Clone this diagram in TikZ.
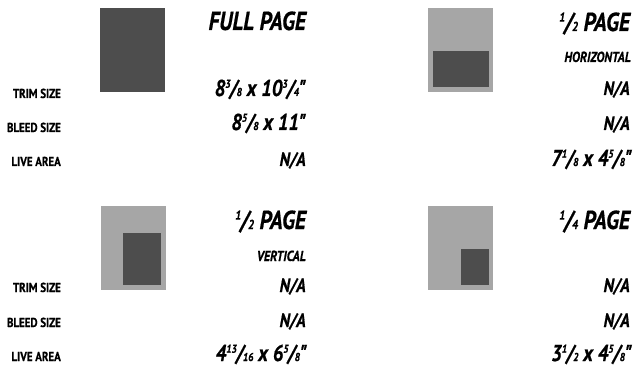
\documentclass[tikz,border=0pt]{standalone}
\usepackage{fontspec}
\usepackage{graphicx}
\newfontfamily\condfont{PT Sans}[FakeStretch=0.84, FakeBold=0.6]
\definecolor{livegray}{HTML}{4D4D4D}
\definecolor{trimgray}{HTML}{A6A6A6}
\newcommand\fr[2]{\raisebox{.36em}{\scalebox{.5}{#1}}\kern-.03em/\kern-.03em\scalebox{.5}{#2}}

\begin{document}
\begin{tikzpicture}[x=1pt, y=-1pt,
  every node/.style={inner sep=0pt, anchor=base east, text=black},
  title/.style={font=\condfont\bfseries\itshape\fontsize{26}{26}\selectfont},
  subtitle/.style={font=\condfont\bfseries\itshape\fontsize{14.5}{14.5}\selectfont},
  dimval/.style={font=\condfont\bfseries\itshape\fontsize{23}{23}\selectfont},
  naval/.style={font=\condfont\bfseries\itshape\fontsize{19.5}{19.5}\selectfont},
  rowlabel/.style={font=\condfont\bfseries\fontsize{13}{13}\selectfont}
]
\useasboundingbox (0,0) rectangle (634,366);
% page thumbnails
\fill[livegray] (100,8) rectangle (165,92);
\fill[trimgray] (428,8) rectangle (493,92);
\fill[livegray] (433,51) rectangle (489,87);
\fill[trimgray] (101,206) rectangle (166,290);
\fill[livegray] (123,233) rectangle (161,285);
\fill[trimgray] (428,206) rectangle (493,290);
\fill[livegray] (461,249) rectangle (489,285);
% full page
\node[title]    (fp)      at (306,30)  {FULL PAGE};
\node[rowlabel] (fptrim)  at (61,98)   {TRIM SIZE};
\node[rowlabel] (fpbleed) at (61,132)  {BLEED SIZE};
\node[rowlabel] (fplive)  at (61,166)  {LIVE AREA};
\node[dimval]   (fptrimv) at (306,96)  {8\fr{3}{8} x 10\fr{3}{4}"};
\node[dimval]   (fpbleedv) at (306,130) {8\fr{5}{8} x 11"};
\node[naval]    (fplivev) at (306,166) {N/A};
% half page horizontal
\node[title]    (hh)      at (630,31)  {\fr{1}{2} PAGE};
\node[subtitle] (hhsub)   at (631,62)  {HORIZONTAL};
\node[naval]    (hhtrimv) at (630,95)  {N/A};
\node[naval]    (hhbleedv) at (630,130) {N/A};
\node[dimval]   (hhlivev) at (632,166) {7\fr{1}{8} x 4\fr{5}{8}"};
% half page vertical
\node[title]    (hv)      at (306,229) {\fr{1}{2} PAGE};
\node[subtitle] (hvsub)   at (306,261) {VERTICAL};
\node[rowlabel] (hvtrim)  at (61,292)  {TRIM SIZE};
\node[rowlabel] (hvbleed) at (61,327)  {BLEED SIZE};
\node[rowlabel] (hvlive)  at (61,361)  {LIVE AREA};
\node[naval]    (hvtrimv) at (306,292) {N/A};
\node[naval]    (hvbleedv) at (306,327) {N/A};
\node[dimval]   (hvlivev) at (307,361) {4\fr{13}{16} x 6\fr{5}{8}"};
% quarter page
\node[title]    (qp)      at (630,229) {\fr{1}{4} PAGE};
\node[naval]    (qptrimv) at (630,292) {N/A};
\node[naval]    (qpbleedv) at (630,327) {N/A};
\node[dimval]   (qplivev) at (632,361) {3\fr{1}{2} x 4\fr{5}{8}"};
\end{tikzpicture}
\end{document}
